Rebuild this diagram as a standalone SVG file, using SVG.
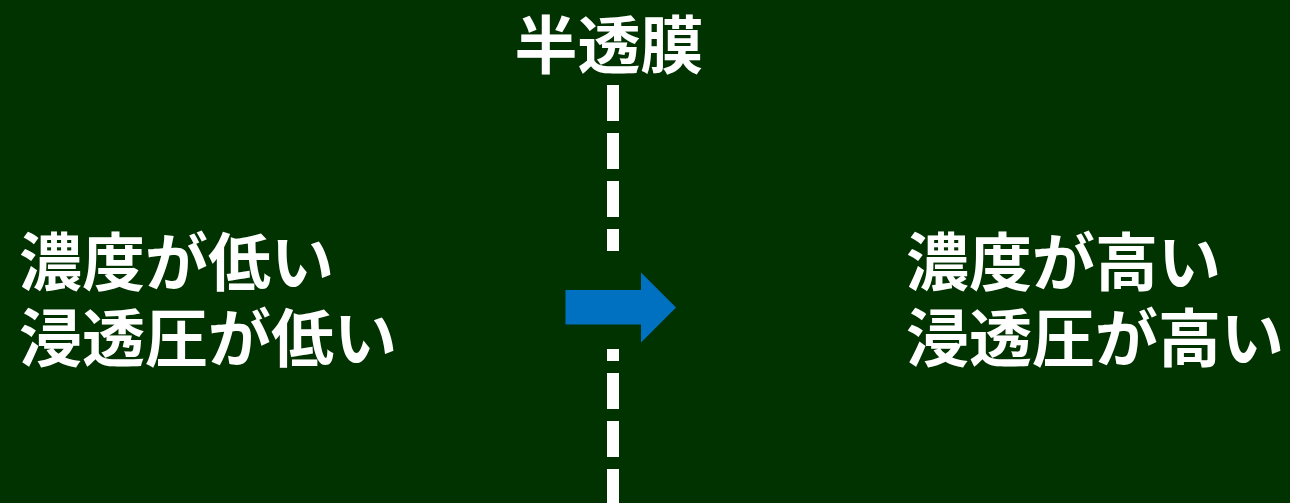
<svg xmlns="http://www.w3.org/2000/svg" width="1290" height="503" viewBox="0 0 1290 503">
<style>
.t{font-family:"Noto Sans CJK JP","Noto Sans CJK SC",sans-serif;font-weight:700;fill:#ffffff;font-size:63px}
.d{stroke:#ffffff;stroke-width:12;stroke-dasharray:36 12;fill:none}
</style>
<rect x="0" y="0" width="1290" height="503" fill="#003300"/>
<g id="membrane-label"><text class="t" x="609" y="68" text-anchor="middle">半透膜</text></g>
<g id="connectors">
<line class="d" x1="613" y1="85" x2="613" y2="251"/>
<line class="d" x1="613" y1="349" x2="613" y2="503" stroke-dashoffset="24"/>
<polygon id="arrow" points="565.5,290 641,290 641,272.5 676,307.5 641,342.5 641,324.5 565.5,324.5" fill="#0070c0"/>
</g>
<g id="left-side"><text class="t" x="19" y="285">濃度が低い</text><text class="t" x="19" y="361">浸透圧が低い</text></g>
<g id="right-side"><text class="t" x="906" y="285">濃度が高い</text><text class="t" x="906" y="361">浸透圧が高い</text></g>
</svg>
